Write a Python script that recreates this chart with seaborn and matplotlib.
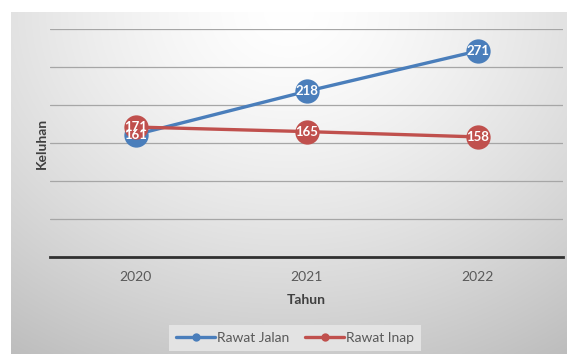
import numpy as np
import pandas as pd
import matplotlib.pyplot as plt
import seaborn as sns

# --- data ---
tahun = ["2020", "2021", "2022"]
rawat_jalan = [161, 218, 271]
rawat_inap = [171, 165, 158]
series_names = ["Rawat Jalan", "Rawat Inap"]
colors = ["#4a7ebb", "#c0504d"]

df = pd.DataFrame({
    "Tahun": tahun * 2,
    "Keluhan": rawat_jalan + rawat_inap,
    "Seri": [series_names[0]] * 3 + [series_names[1]] * 3,
})

sns.set_style("white")
plt.rcParams["font.family"] = ["Lato", "DejaVu Sans"]

W, H = 567, 354
fig = plt.figure(figsize=(W / 100, H / 100), dpi=100)

# --- chart area with soft radial gradient ---
bg = fig.add_axes([11 / W, 0, 1 - 11 / W, 1 - 12 / H])
yy, xx = np.mgrid[0:1:300j, 0:1:500j]
r = np.sqrt(((xx - 0.5) / 0.75) ** 2 + (yy / 1.0) ** 2)
shade = 1.0 - 0.2 * np.clip(r, 0, 1.3) ** 1.4
bg.imshow(np.dstack([shade] * 3), aspect="auto", extent=[0, 1, 1, 0])
bg.axis("off")

# --- plot area ---
ax = fig.add_axes([50 / W, 1 - 257 / H, (563 - 50) / W, (257 - 29) / H])
ax.patch.set_alpha(0)

sns.lineplot(data=df, x="Tahun", y="Keluhan", hue="Seri", palette=colors,
             marker="o", markersize=17.5, markeredgewidth=0, linewidth=2.4,
             sort=False, ax=ax, zorder=3)

for vals, c in zip([rawat_jalan, rawat_inap], colors):
    for i, v in enumerate(vals):
        ax.text(i, v, str(v), ha="center", va="center", color="white",
                fontsize=9.5, fontweight="bold", zorder=5)

ax.set_xlim(-0.5, 2.5)
ax.set_ylim(0, 300)
ax.set_yticks(np.arange(0, 301, 50))
ax.set_yticklabels([])
ax.tick_params(axis="y", length=0)
ax.tick_params(axis="x", length=0, labelsize=10, labelcolor="#595959", pad=10)
ax.yaxis.grid(True, color="#a6a6a6", linewidth=0.9)
ax.set_axisbelow(True)
for s in ["top", "right", "left"]:
    ax.spines[s].set_visible(False)
ax.spines["bottom"].set_color("#303030")
ax.spines["bottom"].set_linewidth(2)

ax.set_xlabel("Tahun", fontsize=10, fontweight="bold", color="#404040", labelpad=8)
ax.set_ylabel("Keluhan", fontsize=10, fontweight="bold", color="#404040", labelpad=-2)

# --- legend ---
handles, labels = ax.get_legend_handles_labels()
for h in handles:
    h.set_markersize(6)
    h.set_linewidth(2.4)
leg = fig.legend(handles, labels, loc="center", bbox_to_anchor=(295 / W, 1 - 338 / H),
                 ncol=2, frameon=True, fontsize=10, handlelength=2.8,
                 handletextpad=0.1, columnspacing=1.2, borderpad=0.5)
leg.get_frame().set_facecolor("#e6e6e6")
leg.get_frame().set_edgecolor("none")
leg.get_frame().set_alpha(0.9)
leg.get_frame().set_boxstyle("square", pad=0.0)
for t in leg.get_texts():
    t.set_color("#595959")
ax.get_legend().remove()

fig.savefig("out.png", dpi=100)
